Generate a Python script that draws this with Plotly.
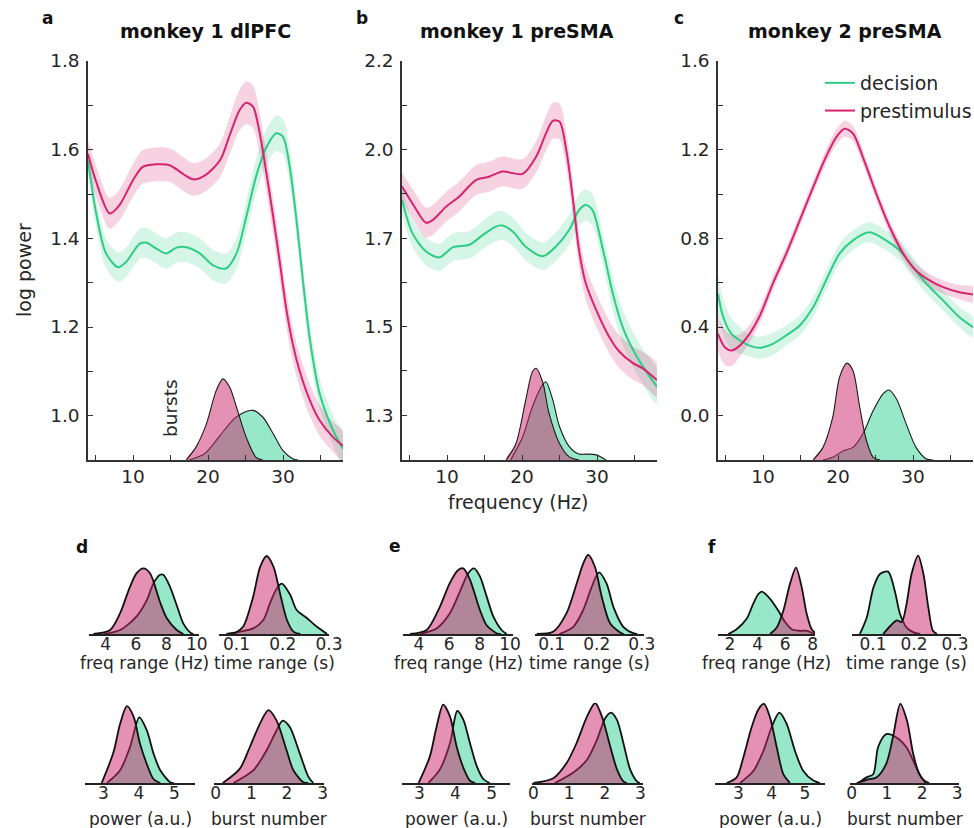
import plotly.graph_objects as go

W, H = 974, 828

# ---------------- top panels: spectra (mean and s.e.m.) ----------------
# panel a: monkey 1 dlPFC
A_PRE_F = [4, 5.1, 6.9, 8.2, 10, 11.3, 13.1, 14.9, 16.7, 18, 19.6, 21.6, 22.9, 24.2, 25.1, 26, 26.9, 27.8, 28.7, 29.6, 30.4, 31.3, 32.2, 33.6, 34.9, 36.7, 38]
A_PRE_M = [1.590, 1.527, 1.456, 1.475, 1.531, 1.561, 1.567, 1.565, 1.545, 1.533, 1.542, 1.576, 1.633, 1.689, 1.706, 1.697, 1.637, 1.546, 1.448, 1.343, 1.245, 1.162, 1.102, 1.034, 0.989, 0.951, 0.932]
A_PRE_S = [0.030, 0.035, 0.035, 0.035, 0.037, 0.038, 0.038, 0.038, 0.038, 0.037, 0.037, 0.038, 0.042, 0.046, 0.048, 0.048, 0.046, 0.044, 0.042, 0.040, 0.040, 0.038, 0.037, 0.036, 0.035, 0.034, 0.034]
A_DEC_F = [4, 5.1, 6.4, 8, 9.1, 10.9, 11.8, 13.1, 14.4, 15.8, 17.1, 18.9, 20.7, 22.4, 23.8, 25.1, 26.4, 27.8, 29.1, 30, 30.9, 31.8, 32.7, 33.6, 34.9, 36.7, 38]
A_DEC_M = [1.576, 1.456, 1.366, 1.335, 1.347, 1.388, 1.390, 1.377, 1.366, 1.379, 1.380, 1.366, 1.339, 1.332, 1.366, 1.448, 1.539, 1.606, 1.637, 1.629, 1.561, 1.441, 1.298, 1.170, 1.049, 0.966, 0.925]
A_DEC_S = [0.030, 0.033, 0.033, 0.033, 0.033, 0.034, 0.034, 0.034, 0.034, 0.034, 0.034, 0.034, 0.034, 0.034, 0.035, 0.036, 0.038, 0.040, 0.040, 0.040, 0.040, 0.038, 0.037, 0.036, 0.035, 0.034, 0.034]
A_BPRE_F = [17.1, 18.4, 19.8, 21.1, 22.0, 22.9, 23.8, 25.1, 26.4, 27.3]
A_BPRE_Y = [0.900, 0.929, 0.982, 1.057, 1.083, 1.064, 1.019, 0.951, 0.906, 0.900]
A_BDEC_F = [17.5, 19.6, 21.6, 23.3, 24.5, 26.0, 27.3, 28.7, 30.0, 31.3, 32.0]
A_BDEC_Y = [0.900, 0.915, 0.955, 0.990, 1.005, 1.012, 0.997, 0.959, 0.921, 0.903, 0.900]

# panel b: monkey 1 preSMA
B_PRE_F = [4, 5.4, 7.2, 8.1, 9.9, 11.6, 13.9, 15.6, 17.4, 20.1, 21.9, 23.2, 24.1, 25, 25.9, 26.8, 27.6, 28.5, 29.9, 31.6, 33, 34.8, 36.1, 38]
B_PRE_M = [1.881, 1.838, 1.789, 1.796, 1.830, 1.855, 1.898, 1.906, 1.919, 1.913, 1.957, 2.016, 2.048, 2.046, 1.974, 1.847, 1.720, 1.635, 1.567, 1.500, 1.461, 1.432, 1.419, 1.389]
B_PRE_S = [0.035, 0.038, 0.038, 0.038, 0.038, 0.038, 0.038, 0.038, 0.038, 0.038, 0.040, 0.044, 0.046, 0.046, 0.045, 0.044, 0.043, 0.042, 0.042, 0.042, 0.042, 0.042, 0.042, 0.042]
B_DEC_F = [4, 5.4, 7.2, 9, 10.8, 13, 14.8, 16.5, 17.4, 18.8, 20.5, 22.8, 24.5, 26.3, 27.6, 28.5, 29.4, 30.8, 32.1, 33.4, 34.8, 36.1, 38]
B_DEC_M = [1.847, 1.762, 1.716, 1.701, 1.727, 1.733, 1.758, 1.779, 1.782, 1.766, 1.728, 1.704, 1.728, 1.771, 1.821, 1.834, 1.821, 1.720, 1.610, 1.525, 1.466, 1.424, 1.372]
B_DEC_S = [0.035, 0.035, 0.035, 0.035, 0.035, 0.035, 0.036, 0.037, 0.037, 0.036, 0.035, 0.035, 0.036, 0.038, 0.040, 0.040, 0.040, 0.040, 0.042, 0.044, 0.045, 0.045, 0.045]
B_BPRE_F = [17.9, 19.2, 20.5, 21.4, 21.9, 22.8, 23.6, 25.0, 26.3, 27.6]
B_BPRE_Y = [1.186, 1.228, 1.339, 1.411, 1.419, 1.381, 1.305, 1.228, 1.194, 1.186]
B_BDEC_F = [18.5, 20.1, 21.4, 22.8, 23.2, 24.1, 25.0, 26.3, 27.6, 28.5, 29.9, 31.2]
B_BDEC_Y = [1.186, 1.245, 1.322, 1.379, 1.385, 1.339, 1.271, 1.220, 1.201, 1.201, 1.199, 1.186]

# panel c: monkey 2 preSMA
C_PRE_F = [4, 4.9, 5.8, 6.9, 8.2, 9.6, 11.3, 13.1, 14.9, 16.7, 18.4, 19.8, 20.9, 22, 23.3, 25.1, 26.9, 28.7, 30.4, 32.2, 34, 36.2, 38]
C_PRE_M = [0.369, 0.309, 0.294, 0.316, 0.369, 0.452, 0.595, 0.731, 0.881, 1.032, 1.168, 1.258, 1.294, 1.273, 1.168, 1.002, 0.851, 0.731, 0.655, 0.610, 0.580, 0.557, 0.547]
C_PRE_S = [0.080, 0.080, 0.070, 0.050, 0.040, 0.035, 0.032, 0.030, 0.030, 0.030, 0.032, 0.035, 0.036, 0.035, 0.032, 0.030, 0.030, 0.030, 0.030, 0.030, 0.030, 0.032, 0.035]
C_DEC_F = [4, 4.7, 5.8, 6.9, 8.2, 9.6, 11.3, 13.1, 14.9, 16.7, 18.4, 20.2, 22, 24.2, 26.4, 28.2, 30, 31.8, 34, 36.2, 38]
C_DEC_M = [0.550, 0.444, 0.369, 0.339, 0.316, 0.306, 0.324, 0.362, 0.407, 0.490, 0.610, 0.731, 0.791, 0.827, 0.791, 0.746, 0.670, 0.595, 0.520, 0.444, 0.399]
C_DEC_S = [0.090, 0.080, 0.070, 0.060, 0.050, 0.050, 0.050, 0.045, 0.045, 0.045, 0.045, 0.045, 0.045, 0.045, 0.045, 0.045, 0.045, 0.045, 0.045, 0.045, 0.045]
C_BPRE_F = [16.7, 18.0, 19.3, 20.2, 21.2, 22.0, 22.9, 23.8, 24.7, 25.6]
C_BPRE_Y = [-0.200, -0.143, -0.007, 0.173, 0.237, 0.203, 0.038, -0.113, -0.188, -0.200]
C_BDEC_F = [18.0, 19.3, 20.7, 22.0, 23.3, 24.7, 26.0, 26.8, 27.8, 29.1, 30.4, 31.8, 32.7]
C_BDEC_Y = [-0.200, -0.188, -0.158, -0.143, -0.083, 0.023, 0.098, 0.116, 0.075, -0.038, -0.143, -0.196, -0.200]

# axis ticks of top panels
FREQ_TICKS = [5, 10, 15, 20, 25, 30, 35]
FREQ_LABELS = ["", "10", "", "20", "", "30", ""]
A_YTICKS = [1.0, 1.1, 1.2, 1.3, 1.4, 1.5, 1.6, 1.7, 1.8]
A_YLABELS = ["1.0", "", "1.2", "", "1.4", "", "1.6", "", "1.8"]
B_YTICKS = [1.3, 1.4125, 1.525, 1.6375, 1.75, 1.8625, 1.975, 2.0875, 2.2]
B_YLABELS = ["1.3", "", "1.5", "", "1.7", "", "2.0", "", "2.2"]
C_YTICKS = [0.0, 0.2, 0.4, 0.6, 0.8, 1.0, 1.2, 1.4, 1.6]
C_YLABELS = ["0.0", "", "0.4", "", "0.8", "", "1.2", "", "1.6"]

# ---------------- bottom panels: burst feature distributions ----------------
# d (monkey 1 dlPFC)
D_FR_PRE_X = [3.19, 4.29, 4.95, 5.60, 6.04, 6.48, 6.92, 7.58, 8.02, 8.68, 9.12]
D_FR_PRE_Y = [0, 0.05, 0.26, 0.59, 0.76, 0.82, 0.76, 0.40, 0.20, 0.05, 0]
D_FR_DEC_X = [3.85, 4.95, 6.04, 6.70, 7.14, 7.58, 7.80, 8.24, 8.68, 9.12, 9.56, 9.78]
D_FR_DEC_Y = [0, 0.05, 0.22, 0.42, 0.63, 0.74, 0.74, 0.59, 0.36, 0.13, 0.02, 0]
D_TR_PRE_X = [0.093, 0.114, 0.136, 0.151, 0.165, 0.180, 0.194, 0.209, 0.223, 0.238]
D_TR_PRE_Y = [0, 0.09, 0.47, 0.84, 0.975, 0.84, 0.51, 0.175, 0.03, 0]
D_TR_DEC_X = [0.078, 0.107, 0.136, 0.158, 0.172, 0.187, 0.198, 0.216, 0.230, 0.252, 0.274, 0.296]
D_TR_DEC_Y = [0, 0.03, 0.07, 0.175, 0.38, 0.57, 0.63, 0.49, 0.30, 0.20, 0.09, 0]
D_PW_PRE_X = [2.95, 3.28, 3.47, 3.66, 3.85, 4.03, 4.22, 4.41, 4.60]
D_PW_PRE_Y = [0, 0.38, 0.74, 0.96, 0.83, 0.49, 0.24, 0.05, 0]
D_PW_DEC_X = [3.10, 3.47, 3.75, 4.01, 4.22, 4.41, 4.60, 4.88, 4.98]
D_PW_DEC_Y = [0, 0.16, 0.45, 0.82, 0.66, 0.37, 0.16, 0.01, 0]
D_BN_PRE_X = [0.20, 0.68, 0.96, 1.24, 1.48, 1.71, 1.99, 2.18, 2.46, 2.60]
D_BN_PRE_Y = [0, 0.18, 0.45, 0.74, 0.91, 0.78, 0.41, 0.16, 0.01, 0]
D_BN_DEC_X = [0.50, 1.06, 1.43, 1.71, 1.88, 2.08, 2.36, 2.60, 2.74]
D_BN_DEC_Y = [0, 0.16, 0.41, 0.66, 0.78, 0.70, 0.37, 0.08, 0]
# e (monkey 1 preSMA)
E_FR_PRE_X = [3.41, 4.51, 5.38, 6.04, 6.59, 6.92, 7.36, 8.02, 8.46, 9.12, 9.40]
E_FR_PRE_Y = [0, 0.05, 0.34, 0.64, 0.80, 0.82, 0.68, 0.30, 0.11, 0.01, 0]
E_FR_DEC_X = [4.07, 5.16, 6.04, 6.70, 7.25, 7.63, 8.02, 8.46, 8.90, 9.45, 9.78]
E_FR_DEC_Y = [0, 0.07, 0.26, 0.53, 0.76, 0.82, 0.72, 0.47, 0.22, 0.05, 0]
E_TR_PRE_X = [0.067, 0.104, 0.133, 0.156, 0.170, 0.181, 0.196, 0.211, 0.230, 0.252, 0.260]
E_TR_PRE_Y = [0, 0.03, 0.26, 0.64, 0.88, 0.99, 0.84, 0.47, 0.13, 0.02, 0]
E_TR_DEC_X = [0.117, 0.148, 0.170, 0.189, 0.205, 0.222, 0.237, 0.259, 0.281, 0.290]
E_TR_DEC_Y = [0, 0.09, 0.30, 0.59, 0.77, 0.63, 0.34, 0.09, 0.01, 0]
E_PW_PRE_X = [2.98, 3.29, 3.48, 3.66, 3.85, 4.03, 4.22, 4.40, 4.55]
E_PW_PRE_Y = [0, 0.33, 0.71, 0.98, 0.83, 0.46, 0.19, 0.03, 0]
E_PW_DEC_X = [3.25, 3.57, 3.85, 4.05, 4.22, 4.40, 4.59, 4.77, 4.95]
E_PW_DEC_Y = [0, 0.17, 0.50, 0.90, 0.79, 0.50, 0.21, 0.05, 0]
E_BN_PRE_X = [0.0, 0.56, 0.93, 1.21, 1.50, 1.73, 1.92, 2.15, 2.34, 2.52, 2.62]
E_BN_PRE_Y = [0, 0.06, 0.25, 0.50, 0.83, 1.0, 0.83, 0.46, 0.17, 0.02, 0]
E_BN_DEC_X = [0.60, 1.12, 1.50, 1.78, 2.01, 2.17, 2.34, 2.52, 2.71, 2.90, 2.98]
E_BN_DEC_Y = [0, 0.13, 0.29, 0.54, 0.81, 0.88, 0.79, 0.50, 0.17, 0.02, 0]
# f (monkey 2 preSMA)
F_FR_PRE_X = [4.91, 5.39, 5.87, 6.36, 6.79, 7.21, 7.57, 7.93, 8.30]
F_FR_PRE_Y = [0, 0.08, 0.29, 0.63, 0.83, 0.58, 0.25, 0.06, 0]
F_FR_DEC_X = [1.88, 2.48, 3.21, 3.69, 4.06, 4.30, 4.91, 5.51, 6.00, 6.48, 7.08, 7.57, 8.17]
F_FR_DEC_Y = [0, 0.06, 0.19, 0.38, 0.50, 0.53, 0.44, 0.29, 0.15, 0.06, 0.04, 0.04, 0]
F_TR_PRE_X = [0.125, 0.142, 0.158, 0.170, 0.182, 0.194, 0.210, 0.223, 0.235, 0.246, 0.256]
F_TR_PRE_Y = [0, 0.10, 0.17, 0.15, 0.38, 0.75, 0.98, 0.75, 0.33, 0.04, 0]
F_TR_DEC_X = [0.068, 0.085, 0.101, 0.117, 0.137, 0.153, 0.166, 0.182, 0.199, 0.215]
F_TR_DEC_Y = [0, 0.21, 0.58, 0.75, 0.78, 0.54, 0.25, 0.08, 0.02, 0]
F_PW_PRE_X = [2.65, 2.95, 3.15, 3.40, 3.60, 3.77, 3.95, 4.15, 4.35, 4.55]
F_PW_PRE_Y = [0, 0.07, 0.32, 0.70, 0.92, 0.99, 0.82, 0.45, 0.11, 0]
F_PW_DEC_X = [3.05, 3.45, 3.75, 4.00, 4.23, 4.45, 4.70, 4.95, 5.25, 5.45]
F_PW_DEC_Y = [0, 0.15, 0.40, 0.70, 0.88, 0.74, 0.40, 0.15, 0.03, 0]
F_BN_PRE_X = [0.14, 0.42, 0.70, 0.98, 1.17, 1.38, 1.57, 1.75, 1.92, 2.11]
F_BN_PRE_Y = [0, 0.04, 0.07, 0.24, 0.57, 0.99, 0.78, 0.36, 0.11, 0]
F_BN_DEC_X = [0.19, 0.42, 0.61, 0.75, 0.98, 1.27, 1.55, 1.83, 2.01, 2.20]
F_BN_DEC_Y = [0, 0.07, 0.11, 0.45, 0.61, 0.57, 0.45, 0.20, 0.05, 0]

FR_TICKS_DE = [4, 6, 8, 10]
FR_TICKS_F = [2, 4, 6, 8]
TR_TICKS = [0.1, 0.2, 0.3]
PW_TICKS = [3, 4, 5]
BN_TICKS = [0, 1, 2, 3]

# ---------------- styling ----------------
FONT = "DejaVu Sans"
TXT = "#262626"
AX = "#333333"
GREEN = "rgb(46,204,133)"
PINK = "rgb(214,36,110)"
GREEN_BAND = "rgba(46,204,133,0.2)"
PINK_BAND = "rgba(214,36,110,0.2)"
GREEN_FILL = "rgba(46,209,145,0.5)"
PINK_FILL = "rgba(203,35,105,0.5)"


def fx(p):
    return p / W


def fy(p):
    return 1 - p / H


fig = go.Figure()
layout = {}
annotations = []


def band(ax, f, m, s, color, fill):
    up = [a + b for a, b in zip(m, s)]
    lo = [a - b for a, b in zip(m, s)]
    fig.add_trace(go.Scatter(x=list(f) + list(f)[::-1], y=up + lo[::-1], fill="toself",
                             fillcolor=fill, line=dict(width=0, shape="spline", smoothing=0.8),
                             mode="lines", hoverinfo="skip", showlegend=False,
                             xaxis="x" + ax, yaxis="y" + ax))


def mean_line(ax, f, m, color, name, legend):
    fig.add_trace(go.Scatter(x=f, y=m, mode="lines", name=name,
                             line=dict(color=color, width=2, shape="spline", smoothing=0.8),
                             showlegend=legend, xaxis="x" + ax, yaxis="y" + ax))


def burst(ax, f, y, base, fill):
    fig.add_trace(go.Scatter(x=list(f) + [f[-1], f[0]], y=list(y) + [base, base], fill="toself",
                             fillcolor=fill, mode="lines",
                             line=dict(width=0, shape="spline", smoothing=0.8),
                             hoverinfo="skip", showlegend=False, xaxis="x" + ax, yaxis="y" + ax))
    fig.add_trace(go.Scatter(x=f, y=y, mode="lines",
                             line=dict(color="#1a1a1a", width=1.1, shape="spline", smoothing=0.8),
                             hoverinfo="skip", showlegend=False, xaxis="x" + ax, yaxis="y" + ax))


top_panels = [
    (88, 343, [0.9, 1.8], A_YTICKS, A_YLABELS,
     (A_DEC_F, A_DEC_M, A_DEC_S, A_PRE_F, A_PRE_M, A_PRE_S, A_BDEC_F, A_BDEC_Y, A_BPRE_F, A_BPRE_Y)),
    (402, 657, [1.186, 2.2], B_YTICKS, B_YLABELS,
     (B_DEC_F, B_DEC_M, B_DEC_S, B_PRE_F, B_PRE_M, B_PRE_S, B_BDEC_F, B_BDEC_Y, B_BPRE_F, B_BPRE_Y)),
    (718, 973, [-0.2, 1.6], C_YTICKS, C_YLABELS,
     (C_DEC_F, C_DEC_M, C_DEC_S, C_PRE_F, C_PRE_M, C_PRE_S, C_BDEC_F, C_BDEC_Y, C_BPRE_F, C_BPRE_Y)),
]

idx = 0
for k, (x0, x1, yr, yt, yl, d) in enumerate(top_panels):
    idx += 1
    ax = str(idx)
    dF, dM, dS, pF, pM, pS, bdF, bdY, bpF, bpY = d
    band(ax, dF, dM, dS, GREEN, GREEN_BAND)
    band(ax, pF, pM, pS, PINK, PINK_BAND)
    burst(ax, bdF, bdY, yr[0], GREEN_FILL)
    burst(ax, bpF, bpY, yr[0], PINK_FILL)
    mean_line(ax, dF, dM, GREEN, "decision", k == 2)
    mean_line(ax, pF, pM, PINK, "prestimulus", k == 2)
    common = dict(showgrid=False, zeroline=False, showline=True, linecolor=AX, linewidth=1.5,
                  ticks="inside", ticklen=5, tickwidth=1.3, tickcolor=AX, mirror=False,
                  automargin=False,
                  tickfont=dict(family=FONT, size=18.5, color=TXT), fixedrange=True)
    layout["xaxis" + ax] = dict(common, domain=[fx(x0), fx(x1)], range=[4, 38], anchor="y" + ax,
                                tickmode="array", tickvals=FREQ_TICKS, ticktext=FREQ_LABELS,
                                ticklabelstandoff=-1)
    layout["yaxis" + ax] = dict(common, domain=[fy(460), fy(61)], range=yr, anchor="x" + ax,
                                tickmode="array", tickvals=yt, ticktext=yl, ticklabelstandoff=3)

# mini panels: (x0px, x1px, baseline px, xrange, ticks, pre x,y, dec x,y, label)
mini = [
    (89, 199, 634, [2.9, 10.15], FR_TICKS_DE, D_FR_PRE_X, D_FR_PRE_Y, D_FR_DEC_X, D_FR_DEC_Y, "freq range (Hz)"),
    (219, 329, 634, [0.062, 0.30], TR_TICKS, D_TR_PRE_X, D_TR_PRE_Y, D_TR_DEC_X, D_TR_DEC_Y, "time range (s)"),
    (85, 195, 783, [2.48, 5.58], PW_TICKS, D_PW_PRE_X, D_PW_PRE_Y, D_PW_DEC_X, D_PW_DEC_Y, "power (a.u.)"),
    (214, 324, 783, [-0.047, 3.04], BN_TICKS, D_BN_PRE_X, D_BN_PRE_Y, D_BN_DEC_X, D_BN_DEC_Y, "burst number"),
    (403, 513, 634, [2.95, 10.2], FR_TICKS_DE, E_FR_PRE_X, E_FR_PRE_Y, E_FR_DEC_X, E_FR_DEC_Y, "freq range (Hz)"),
    (535, 644, 634, [0.063, 0.305], TR_TICKS, E_TR_PRE_X, E_TR_PRE_Y, E_TR_DEC_X, E_TR_DEC_Y, "time range (s)"),
    (402, 510, 783, [2.52, 5.51], PW_TICKS, E_PW_PRE_X, E_PW_PRE_Y, E_PW_DEC_X, E_PW_DEC_Y, "power (a.u.)"),
    (532, 643, 783, [-0.04, 3.07], BN_TICKS, E_BN_PRE_X, E_BN_PRE_Y, E_BN_DEC_X, E_BN_DEC_Y, "burst number"),
    (718, 815, 634, [1.13, 8.17], FR_TICKS_F, F_FR_PRE_X, F_FR_PRE_Y, F_FR_DEC_X, F_FR_DEC_Y, "freq range (Hz)"),
    (852, 961, 634, [0.0488, 0.3146], TR_TICKS, F_TR_PRE_X, F_TR_PRE_Y, F_TR_DEC_X, F_TR_DEC_Y, "time range (s)"),
    (715, 825, 783, [2.30, 5.60], PW_TICKS, F_PW_PRE_X, F_PW_PRE_Y, F_PW_DEC_X, F_PW_DEC_Y, "power (a.u.)"),
    (850, 959, 783, [-0.05, 3.05], BN_TICKS, F_BN_PRE_X, F_BN_PRE_Y, F_BN_DEC_X, F_BN_DEC_Y, "burst number"),
]

for (x0, x1, base, xr, ticks, prx, pry, dcx, dcy, label) in mini:
    idx += 1
    ax = str(idx)
    for xs, ys, col in ((dcx, dcy, GREEN_FILL), (prx, pry, PINK_FILL)):
        fig.add_trace(go.Scatter(x=xs, y=ys, mode="lines", fill="tozeroy", fillcolor=col,
                                 line=dict(color="#111111", width=1.8, shape="spline", smoothing=0.8),
                                 hoverinfo="skip", showlegend=False, xaxis="x" + ax, yaxis="y" + ax))
    layout["xaxis" + ax] = dict(domain=[fx(x0), fx(x1)], range=xr, anchor="y" + ax, automargin=False,
                                showgrid=False, zeroline=False, showline=True, linecolor="#222222",
                                linewidth=2, ticks="", tickmode="array", tickvals=ticks,
                                ticktext=[("%g" % t) for t in ticks], ticklabelstandoff=-6,
                                tickfont=dict(family=FONT, size=17, color=TXT), fixedrange=True)
    layout["yaxis" + ax] = dict(domain=[fy(base), fy(base - 80)], range=[0, 1.0], anchor="x" + ax,
                                visible=False, fixedrange=True, automargin=False)
    annotations.append(dict(text=label, x=fx((x0 + x1) / 2), y=fy(base + 29 if base < 700 else base + 36),
                            xref="paper", yref="paper", showarrow=False, xanchor="center", yanchor="middle",
                            font=dict(family=FONT, size=17, color=TXT)))

# titles and panel letters
for text, cx in (("monkey 1 dlPFC", 205), ("monkey 1 preSMA", 517), ("monkey 2 preSMA", 845)):
    annotations.append(dict(text="<b>%s</b>" % text, x=fx(cx), y=fy(31), xref="paper", yref="paper",
                            showarrow=False, xanchor="center", yanchor="middle",
                            font=dict(family=FONT, size=19, color="#111111")))
for text, px, py in (("a", 47, 18), ("b", 362, 18), ("c", 679, 18), ("d", 82, 547), ("e", 395, 546), ("f", 712, 547)):
    annotations.append(dict(text="<b>%s</b>" % text, x=fx(px), y=fy(py), xref="paper", yref="paper",
                            showarrow=False, xanchor="center", yanchor="middle",
                            font=dict(family=FONT, size=17, color="#111111")))

annotations.append(dict(text="log power", x=fx(24), y=fy(270), xref="paper", yref="paper", textangle=-90,
                        showarrow=False, xanchor="center", yanchor="middle",
                        font=dict(family=FONT, size=19, color=TXT)))
annotations.append(dict(text="bursts", x=fx(170), y=fy(408), xref="paper", yref="paper", textangle=-90,
                        showarrow=False, xanchor="center", yanchor="middle",
                        font=dict(family=FONT, size=18.5, color=TXT)))
annotations.append(dict(text="frequency (Hz)", x=fx(518), y=fy(502), xref="paper", yref="paper",
                        showarrow=False, xanchor="center", yanchor="middle",
                        font=dict(family=FONT, size=19, color=TXT)))

fig.update_layout(
    template="none",
    width=W, height=H, margin=dict(l=0, r=0, t=0, b=0, pad=0, autoexpand=False),
    paper_bgcolor="white", plot_bgcolor="white",
    font=dict(family=FONT, color=TXT),
    annotations=annotations,
    legend=dict(x=fx(820), y=fy(64), xanchor="left", yanchor="top", bgcolor="rgba(0,0,0,0)",
                font=dict(family=FONT, size=19, color=TXT), itemwidth=30, tracegroupgap=0,
                borderwidth=0),
    **layout,
)

fig.write_html("out.html", config={"displayModeBar": False},
               post_script="document.body.style.margin='0';document.body.style.padding='0';"
                           "document.body.style.overflow='hidden';")
